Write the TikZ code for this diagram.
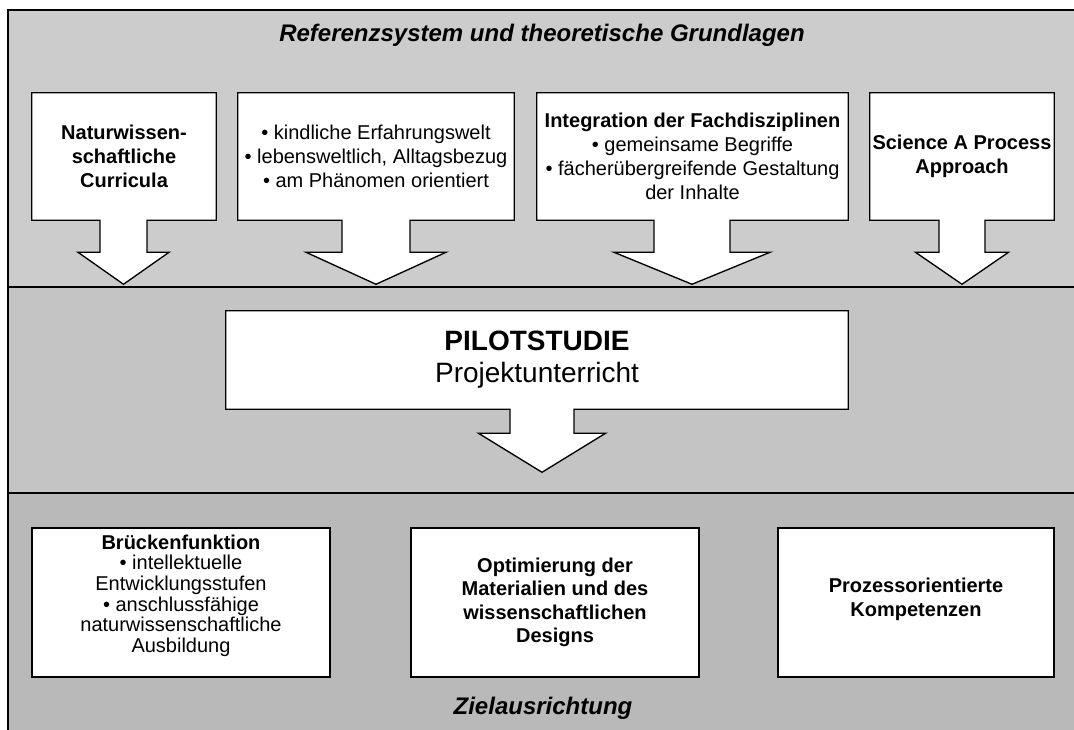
\documentclass[tikz,border=0pt]{standalone}
\usepackage{fontspec}
\setmainfont{Liberation Sans}
\usepackage{tikz}
\usetikzlibrary{calc,backgrounds}
\definecolor{bandtop}{HTML}{CCCCCC}
\definecolor{bandmid}{HTML}{C4C4C4}
\definecolor{bandlow}{HTML}{B9B9B9}

\begin{document}
\begin{tikzpicture}[
    x=0.75pt, y=-0.75pt,
    box/.style={rectangle, inner sep=0pt, align=center, font=\fontsize{15}{18}\selectfont},
    boldbox/.style={box, font=\fontsize{15}{18}\selectfont\bfseries},
    topbox/.style={minimum width=#1, minimum height=95.25pt},
    lowbox/.style={draw, fill=white, line width=1pt, minimum width=#1, minimum height=111.75pt},
    outline/.style={draw, fill=white, line width=1pt, line join=miter},
    band/.style={draw=black, line width=1.6pt},
    heading/.style={font=\fontsize{18}{22}\selectfont\bfseries\itshape},
]
    \useasboundingbox (0,0) rectangle (1074,729);

    % Headings
    \node[heading] (refsys) at (542,35) {Referenzsystem und theoretische Grundlagen};
    \node[heading] (ziel) at (543,708) {Zielausrichtung};

    % Reference system
    \node[boldbox, topbox=138pt] (nat) at (124,156.5) {Naturwissen-\\schaftliche\\Curricula};
    \node[box, topbox=207pt] (kind) at (376,156.5) {• kindliche Erfahrungswelt\\• lebensweltlich, Alltagsbezug\\• am Phänomen orientiert};
    \node[box, topbox=233.25pt] (integ) at (692.5,156.5) {\textbf{Integration der Fachdisziplinen}\\• gemeinsame Begriffe\\• fächerübergreifende Gestaltung\\der Inhalte};
    \node[boldbox, topbox=138pt] (sapa) at (962,156.5) {Science A Process\\Approach};

    % Pilot study
    \node[box, minimum width=466.5pt, minimum height=73.5pt, font=\fontsize{21}{24}\selectfont] (pilot) at (537,360) {\textbf{PILOTSTUDIE}\\Projektunterricht};

    % Aims (rules lift the text a little)
    \node[box, lowbox=223.5pt, font=\fontsize{15}{15.4}\selectfont] (bridge) at (181,602.5) {\textbf{Brückenfunktion}\\• intellektuelle\\Entwicklungsstufen\\• anschlussfähige\\naturwissenschaftliche\\Ausbildung\rule[-13.5pt]{0pt}{0pt}};
    \node[boldbox, lowbox=216pt, font=\fontsize{15}{17.6}\selectfont\bfseries] (optim) at (555,602.5) {Optimierung der\\Materialien und des\\wissenschaftlichen\\Designs};
    \node[boldbox, lowbox=207pt] (proz) at (916,602.5) {Prozessorientierte\\Kompetenzen\rule[-7.5pt]{0pt}{0pt}};

    \begin{pgfonlayer}{background}
        \clip (0,0) rectangle (1074,729);
        \fill[white] (0,0) rectangle (1074,729);
        % Bands
        \filldraw[band, fill=bandtop] (8,10) rectangle (1090,287);
        \filldraw[band, fill=bandmid] (8,287) rectangle (1090,493);
        \filldraw[band, fill=bandlow] (8,493) rectangle (1090,745);
        % Boxes with down arrows
        \foreach \n/\sh/\hd/\dx/\nk/\tp in {nat/23.5/45.5/-0.5/32/64, kind/34/70/0/32/64,
            integ/38/78/-0.5/32/64, sapa/23/46.5/0/32/64, pilot/32/63.5/5/24/63}
            \draw[outline] (\n.south west) -- (\n.north west) -- (\n.north east) -- (\n.south east)
                -- ($(\n.south)+(\dx+\sh,0)$) -- ($(\n.south)+(\dx+\sh,\nk)$)
                -- ($(\n.south)+(\dx+\hd,\nk)$) -- ($(\n.south)+(\dx,\tp)$)
                -- ($(\n.south)+(\dx-\hd,\nk)$) -- ($(\n.south)+(\dx-\sh,\nk)$)
                -- ($(\n.south)+(\dx-\sh,0)$) -- cycle;
    \end{pgfonlayer}
\end{tikzpicture}
\end{document}
